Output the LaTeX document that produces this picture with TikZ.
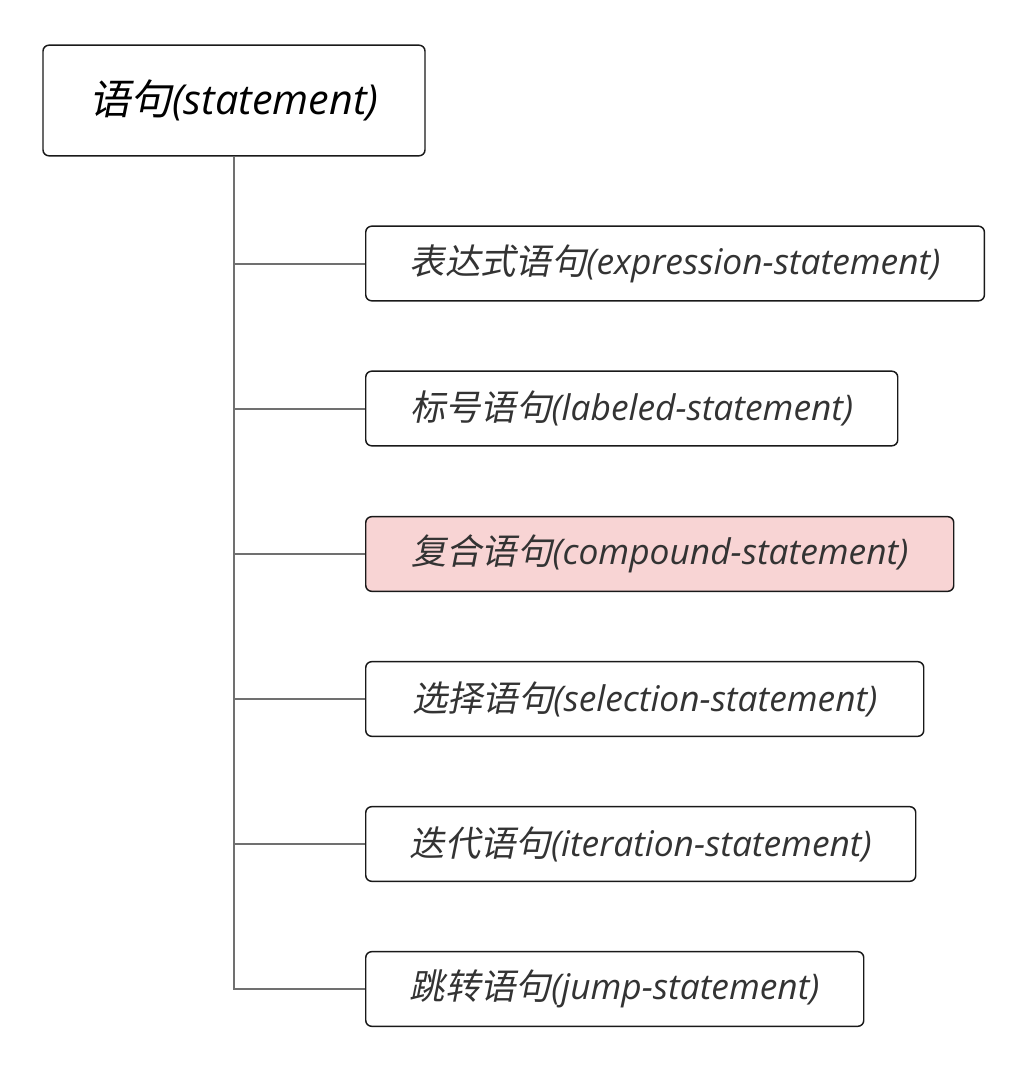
\documentclass[tikz,border=0pt]{standalone}
\usepackage{fontspec}
\newfontfamily\cjk[FakeSlant=0.2]{Noto Sans CJK SC}
\newfontfamily\lat{Open Sans}[UprightFont=* Italic]
\definecolor{pinkfill}{HTML}{F8D4D4}
\definecolor{txtgray}{HTML}{333333}
\definecolor{linegray}{HTML}{707070}
\begin{document}
\begin{tikzpicture}[x=0.75pt,y=-0.75pt,
  box/.style={draw=black!90,line width=1.1pt,rounded corners=4.5pt,inner sep=0pt,anchor=west,minimum height=56pt,text=txtgray,font=\fontsize{26.5}{30}\selectfont},
  rootbox/.style={draw=black!90,line width=1.1pt,rounded corners=4.5pt,inner sep=0pt,minimum width=286.5pt,minimum height=83pt,font=\fontsize{31}{36}\selectfont},
  conn/.style={draw=linegray,line width=1.5pt}]
\useasboundingbox (0,0) rectangle (1028,1070);
\node[rootbox] (root) at (234,100.5) {{\cjk 语句}{\lat (statement)}};
\node[box,minimum width=464pt] (c1) at (365,263.5) {{\cjk 表达式语句}{\lat (expression-statement)}};
\node[box,minimum width=399pt] (c2) at (365,408.5) {{\cjk 标号语句}{\lat (labeled-statement)}};
\node[box,minimum width=441pt,fill=pinkfill] (c3) at (365,554) {{\cjk 复合语句}{\lat (compound-statement)}};
\node[box,minimum width=418.5pt] (c4) at (365,699) {{\cjk 选择语句}{\lat (selection-statement)}};
\node[box,minimum width=412.5pt] (c5) at (365,844) {{\cjk 迭代语句}{\lat (iteration-statement)}};
\node[box,minimum width=373.5pt] (c6) at (365,989) {{\cjk 跳转语句}{\lat (jump-statement)}};
\foreach \c in {c1,c2,c3,c4,c5,c6}
  \draw[conn] (root.south) |- (\c.west);
\end{tikzpicture}
\end{document}
